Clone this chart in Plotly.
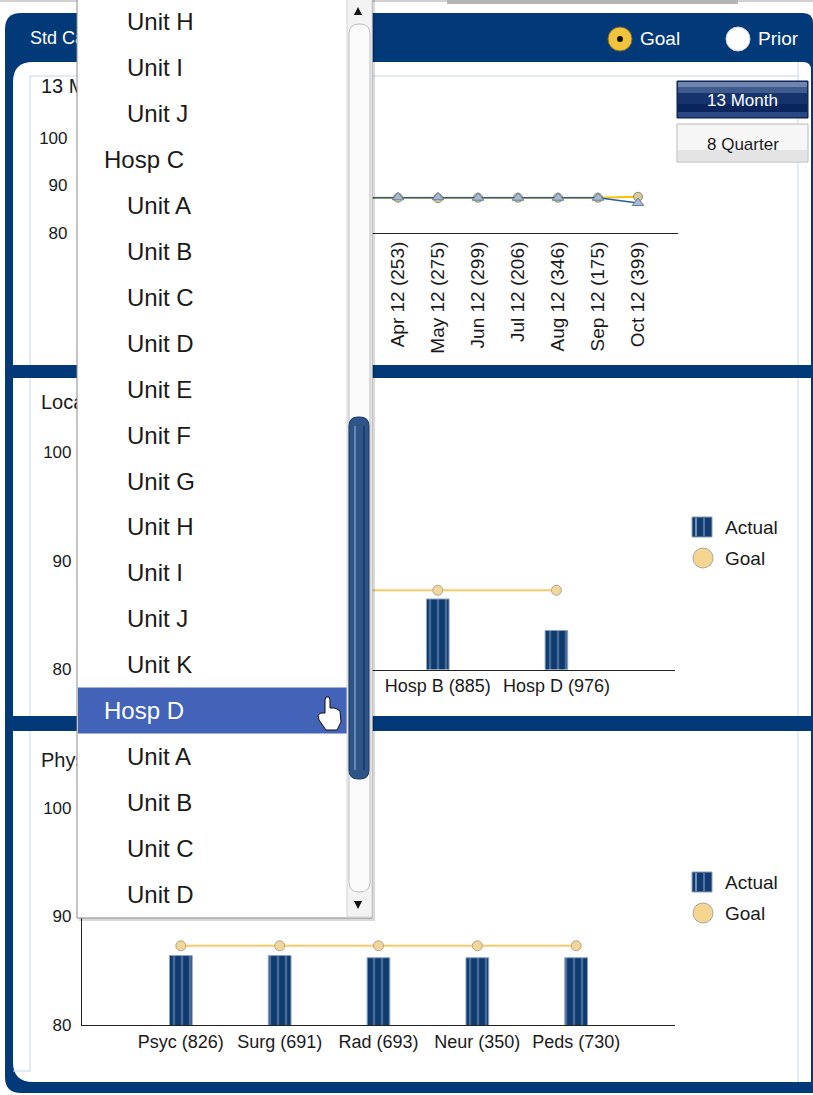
import plotly.graph_objects as go

W, H = 813, 1095
FONT = "Liberation Sans, Arial, sans-serif"

# ---------------- data ----------------
months = ["Oct 11 (318)", "Nov 11 (287)", "Dec 11 (265)", "Jan 12 (301)", "Feb 12 (276)",
          "Mar 12 (290)", "Apr 12 (253)", "May 12 (275)", "Jun 12 (299)", "Jul 12 (206)",
          "Aug 12 (346)", "Sep 12 (175)", "Oct 12 (399)"]
trend_actual = [87.4, 87.4, 87.4, 87.4, 87.4, 87.4, 87.5, 87.5, 87.4, 87.4, 87.4, 87.4, 86.3]
trend_goal = [87.4, 87.4, 87.4, 87.4, 87.4, 87.4, 87.4, 87.3, 87.4, 87.4, 87.4, 87.4, 87.6]

locations = ["Hosp A (812)", "Hosp C (904)", "Hosp B (885)", "Hosp D (976)"]
loc_actual = [86.0, 85.2, 86.5, 83.6]
loc_goal = [87.3, 87.3, 87.3, 87.3]

specialties = ["Psyc (826)", "Surg (691)", "Rad (693)", "Neur (350)", "Peds (730)"]
spec_actual = [86.4, 86.4, 86.2, 86.2, 86.2]
spec_goal = [87.3, 87.3, 87.3, 87.3, 87.3]

y_ticks = [80, 90, 100]

header_title = "Std Care Measures"
panel_titles = ["13 Month Trend", "Location", "Physician Specialty"]
period_buttons = ["13 Month", "8 Quarter"]
compare_options = ["Goal", "Prior"]
legend_names = ["Actual", "Goal"]

dropdown_items = ["Unit H", "Unit I", "Unit J", "Hosp C", "Unit A", "Unit B", "Unit C", "Unit D",
                  "Unit E", "Unit F", "Unit G", "Unit H", "Unit I", "Unit J", "Unit K", "Hosp D",
                  "Unit A", "Unit B", "Unit C", "Unit D"]
selected_index = 15


# ---------------- helpers (pixel -> paper) ----------------
def px(x):
    return x / W


def py(y):
    return 1 - y / H


def rect(x0, y0, x1, y1, fill, line=None, lw=1, layer="below", opacity=1):
    return dict(type="rect", xref="paper", yref="paper", x0=px(x0), x1=px(x1), y0=py(y1), y1=py(y0),
                fillcolor=fill, line=dict(color=line or "rgba(0,0,0,0)", width=lw if line else 0),
                layer=layer, opacity=opacity)


def circle(cx, cy, r, fill, line=None, lw=1, layer="below"):
    return dict(type="circle", xref="paper", yref="paper", x0=px(cx - r), x1=px(cx + r),
                y0=py(cy + r), y1=py(cy - r), fillcolor=fill,
                line=dict(color=line or "rgba(0,0,0,0)", width=lw if line else 0), layer=layer)


def hline(x0, x1, y, color, lw=1, layer="below"):
    return dict(type="line", xref="paper", yref="paper", x0=px(x0), x1=px(x1), y0=py(y), y1=py(y),
                line=dict(color=color, width=lw), layer=layer)


def vline(x, y0, y1, color, lw=1, layer="below"):
    return dict(type="line", xref="paper", yref="paper", x0=px(x), x1=px(x), y0=py(y0), y1=py(y1),
                line=dict(color=color, width=lw), layer=layer)


def P(x, y):
    return f"{px(x):.6f},{py(y):.6f}"


def rrect(x0, y0, x1, y1, fill, rtl=0, rtr=0, rbr=0, rbl=0, line=None, lw=1, layer="below"):
    d = (f"M {P(x0 + rtl, y0)} L {P(x1 - rtr, y0)} Q {P(x1, y0)} {P(x1, y0 + rtr)} "
         f"L {P(x1, y1 - rbr)} Q {P(x1, y1)} {P(x1 - rbr, y1)} "
         f"L {P(x0 + rbl, y1)} Q {P(x0, y1)} {P(x0, y1 - rbl)} "
         f"L {P(x0, y0 + rtl)} Q {P(x0, y0)} {P(x0 + rtl, y0)} Z")
    return dict(type="path", xref="paper", yref="paper", path=d, fillcolor=fill,
                line=dict(color=line or "rgba(0,0,0,0)", width=lw if line else 0), layer=layer)


def poly(points, fill, line=None, lw=1, layer="above"):
    d = "M " + " L ".join(P(x, y) for x, y in points) + " Z"
    return dict(type="path", xref="paper", yref="paper", path=d, fillcolor=fill,
                line=dict(color=line or "rgba(0,0,0,0)", width=lw if line else 0), layer=layer)


def label(x, y, text, size=18, color="#1a1a1a", xanchor="left"):
    return dict(xref="paper", yref="paper", x=px(x), y=py(y), text=text, showarrow=False,
                xanchor=xanchor, yanchor="middle", font=dict(family=FONT, size=size, color=color))


NAVY = "#023a79"
LIGHT = "#c7d6ea"
TXT = "#1a1a1a"

fig = go.Figure()

# ---------------- chart 1: 13 month trend ----------------
fig.add_trace(go.Scatter(
    x=months, y=trend_goal, name=legend_names[1], mode="lines+markers", xaxis="x", yaxis="y",
    line=dict(color="#f5c200", width=2.2),
    marker=dict(symbol="circle", size=9, color="#d9c89c", line=dict(color="#8c8c7a", width=1))))
fig.add_trace(go.Scatter(
    x=months, y=trend_actual, name=legend_names[0], mode="lines+markers", xaxis="x", yaxis="y",
    line=dict(color="#2a5d9f", width=1.6),
    marker=dict(symbol="triangle-up", size=10, color="#a7bad3", line=dict(color="#6a7d96", width=1))))

bar_marker = dict(color="#0e3a6e", line=dict(color="#8fa3bf", width=1),
                  pattern=dict(shape="|", fgcolor="#7d9bc3", bgcolor="#0e3a6e", size=8, solidity=0.3))
goal_line = dict(color="#fbc968", width=2)
goal_marker = dict(symbol="circle", size=10, color="#f1d79e", line=dict(color="#b3a684", width=1))

# ---------------- chart 2: location ----------------
fig.add_trace(go.Bar(x=locations, y=loc_actual, name=legend_names[0], xaxis="x2", yaxis="y2",
                     width=0.19, marker=bar_marker))
fig.add_trace(go.Scatter(x=locations, y=loc_goal, name=legend_names[1], mode="lines+markers",
                         xaxis="x2", yaxis="y2", line=goal_line, marker=goal_marker))

# ---------------- chart 3: specialty ----------------
fig.add_trace(go.Bar(x=specialties, y=spec_actual, name=legend_names[0], xaxis="x3", yaxis="y3",
                     width=0.23, marker=bar_marker))
fig.add_trace(go.Scatter(x=specialties, y=spec_goal, name=legend_names[1], mode="lines+markers",
                         xaxis="x3", yaxis="y3", line=goal_line, marker=goal_marker))

# ---------------- canvas text (titles that the dropdown covers) ----------------
fig.add_trace(go.Scatter(x=[30], y=[39], text=[header_title], mode="text", textposition="middle right",
                         xaxis="x4", yaxis="y4", cliponaxis=False, hoverinfo="skip",
                         textfont=dict(family=FONT, size=18, color="white")))
fig.add_trace(go.Scatter(x=[41, 41, 41], y=[88, 404, 762], text=panel_titles, mode="text",
                         textposition="middle right", xaxis="x4", yaxis="y4", cliponaxis=False,
                         hoverinfo="skip", textfont=dict(family=FONT, size=20, color=TXT)))

tickfont = dict(family=FONT, size=18, color=TXT)
common_x = dict(type="category", showline=True, linecolor="#222", linewidth=1.2, ticks="",
                showgrid=False, zeroline=False, tickfont=tickfont, fixedrange=True, automargin=False)
common_y = dict(showline=True, linecolor="#222", linewidth=1.2, ticks="", tickvals=y_ticks,
                showgrid=False, zeroline=False, tickfont=dict(family=FONT, size=17, color=TXT),
                ticklabelstandoff=6, fixedrange=True, automargin=False)

fig.update_layout(
    width=W, height=H, margin=dict(l=0, r=0, t=0, b=0, pad=0, autoexpand=False), autosize=False,
    paper_bgcolor="white", plot_bgcolor="rgba(0,0,0,0)", showlegend=False,
    font=dict(family=FONT, size=17, color=TXT),
    barmode="overlay",
    xaxis=dict(domain=[px(78), px(678)], anchor="y", range=[-2, 13], tickangle=-90,
               **{**common_x, "tickfont": dict(family=FONT, size=19, color=TXT)}),
    yaxis=dict(domain=[py(233), py(90)], anchor="x", range=[80, 110], **common_y),
    xaxis2=dict(domain=[px(82), px(675)], anchor="y2", range=[-1, 4], **common_x),
    yaxis2=dict(domain=[py(669.5), py(430.8)], anchor="x2", range=[80, 102], **common_y),
    xaxis3=dict(domain=[px(82), px(675)], anchor="y3", range=[-1, 5], **common_x),
    yaxis3=dict(domain=[py(1025), py(786.3)], anchor="x3", range=[80, 102], **common_y),
    xaxis4=dict(domain=[0, 1], anchor="y4", range=[0, W], visible=False, fixedrange=True),
    yaxis4=dict(domain=[0, 1], anchor="x4", range=[H, 0], visible=False, fixedrange=True),
)

shapes = []
# page top strip
shapes.append(rect(0, 0, 813, 2, "#d2d2d2"))
shapes.append(rect(447, 0, 738, 4, "#b5b5b5"))
# navy frame
shapes.append(rrect(5, 13, 813, 1093, NAVY, rtl=16, rtr=10, rbl=16))
# white panels
shapes.append(rrect(13, 62, 811, 365, "white", rtl=20, rtr=8))
shapes.append(rect(13, 378, 811, 716, "white"))
shapes.append(rrect(13, 731, 811, 1082, "white", rbl=20))
# light inner borders
shapes.append(hline(30, 798, 76, LIGHT))
shapes.append(vline(30, 76, 365, LIGHT))
shapes.append(vline(798, 62, 365, LIGHT))
shapes.append(vline(30, 378, 716, LIGHT))
shapes.append(vline(798, 378, 716, LIGHT))
shapes.append(vline(30, 731, 1071, LIGHT))
shapes.append(vline(798, 731, 1082, LIGHT))
shapes.append(hline(13, 30, 1071, LIGHT))

# radio buttons
shapes.append(circle(620, 39, 12, "#f0c43c", "#7d6a2a"))
shapes.append(circle(620, 39, 3, "#111111"))
shapes.append(circle(738, 39, 12, "white", "#d0d0d0"))

# period buttons
shapes.append(rect(677, 81, 808, 118, "#16336e", "#0b2150"))
shapes.append(rect(678, 82, 807, 87, "#7085ad"))
shapes.append(rect(678, 87, 807, 93, "#3f5a8c"))
shapes.append(rect(678, 104, 807, 112, "#0a245c"))
shapes.append(rect(678, 112, 807, 117, "#2c4882"))
shapes.append(rect(677, 124, 808, 162, "#f6f6f6", "#b8b8b8"))
shapes.append(rect(678, 150, 807, 161, "#e4e4e4"))

# manual legends (charts 2 and 3)
for cy_a, cy_g in [(527, 558), (882, 913)]:
    shapes.append(rect(692, cy_a - 10, 712, cy_a + 10, "#123c70", "#8aa0bb"))
    shapes.append(rect(695, cy_a - 9, 697, cy_a + 9, "#7390b8"))
    shapes.append(rect(703, cy_a - 9, 705, cy_a + 9, "#4f74a6"))
    shapes.append(circle(703, cy_g, 10, "#f5d58f", "#a8a8a0"))

# ---------------- dropdown overlay (above everything) ----------------
shapes.append(rect(79, -3, 375, 921, "rgba(0,0,0,0.15)", layer="above"))
shapes.append(rect(77, -3, 372, 918, "white", "#8a8a8a", layer="above"))
hy = 22 + selected_index * 45.9
shapes.append(rect(78, hy - 23, 347, hy + 23, "#4263b8", layer="above"))
shapes.append(rect(347, -3, 372, 917, "#f3f3f3", "#d4d4d4", layer="above"))
shapes.append(rrect(349, 24, 370, 892, "#fbfbfb", 10, 10, 10, 10, line="#bdbdbd", layer="above"))
shapes.append(rrect(349, 417, 369, 779, "#2d5588", 9, 9, 9, 9, line="#1b3a66", layer="above"))
shapes.append(vline(355, 426, 770, "#6688b6", 2, layer="above"))
shapes.append(vline(364, 426, 770, "#1c3d6c", 2, layer="above"))
shapes.append(poly([(354, 15), (362, 15), (358, 7)], "#111111"))
shapes.append(poly([(354, 901), (362, 901), (358, 909)], "#111111"))
# hand cursor
shapes.append(poly([(325, 713), (325, 700), (326, 697), (329, 697), (330, 700), (330, 708),
                    (334, 708), (337, 709), (340, 711), (341, 722), (337, 730), (326, 730),
                    (319, 720), (318, 715), (321, 713)], "white", "#111111", 1))

fig.update_layout(shapes=shapes)

annotations = []
annotations.append(label(638, 39, compare_options[0], 19, "white"))
annotations.append(label(756, 39, compare_options[1], 19, "white"))
annotations.append(label(742.5, 100, period_buttons[0], 17, "white", "center"))
annotations.append(label(742.5, 144, period_buttons[1], 17, TXT, "center"))
for cy_a, cy_g in [(527, 558), (882, 913)]:
    annotations.append(label(723, cy_a, legend_names[0], 19, TXT))
    annotations.append(label(723, cy_g, legend_names[1], 19, TXT))
for i, item in enumerate(dropdown_items):
    x = 102 if item.startswith("Hosp") else 125
    col = "white" if i == selected_index else TXT
    annotations.append(label(x, 22 + i * 45.9, item, 24, col))
fig.update_layout(annotations=annotations)

fig.write_html("out.html", config=dict(displayModeBar=False),
               post_script="document.body.style.margin='0';document.body.style.overflow='hidden';")
